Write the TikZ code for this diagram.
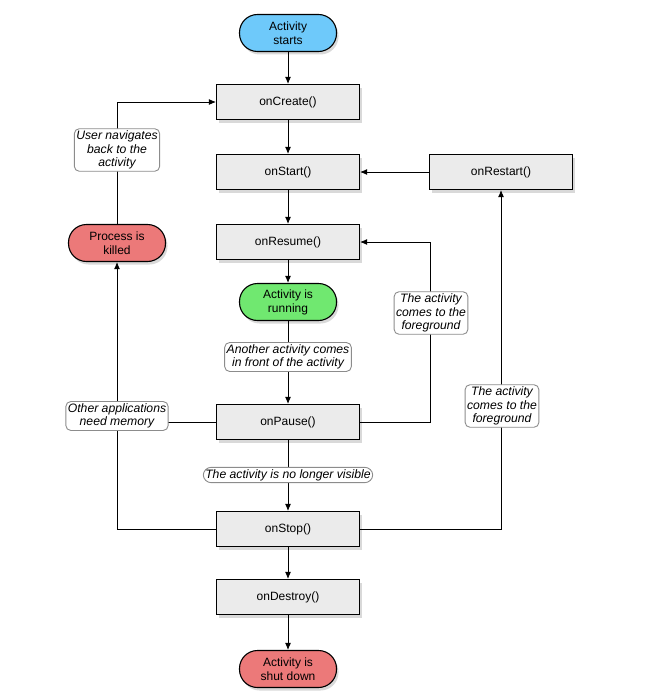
\documentclass[tikz,border=0pt]{standalone}
\usepackage{fontspec}
\setmainfont{Liberation Sans}
\usetikzlibrary{arrows.meta,shadows}
\definecolor{startblue}{RGB}{110,201,250}
\definecolor{rungreen}{RGB}{112,232,112}
\definecolor{endred}{RGB}{236,121,121}
\definecolor{boxgray}{RGB}{235,235,235}
\begin{document}
\begin{tikzpicture}[x=1pt,y=-1pt,
	font=\fontsize{12}{14}\selectfont,
	>={Latex[length=7pt,width=6pt]},
	callbox/.style={draw=black,line width=1.1pt,fill=boxgray,minimum width=143pt,minimum height=35pt,
		drop shadow={opacity=0.3,shadow xshift=2pt,shadow yshift=-3pt}},
	statepill/.style={draw=black,line width=1.1pt,rounded corners=18pt,minimum width=97pt,minimum height=37pt,align=center,
		drop shadow={opacity=0.3,shadow xshift=2pt,shadow yshift=-3pt}},
	note/.style={draw=black!45,fill=white,rounded corners=5pt,align=center,inner sep=2pt,
		font=\fontsize{12.2}{13.6}\selectfont\itshape},
	every path/.style={line width=0.9pt}]
	\useasboundingbox (0,0) rectangle (654,693);

	% main column
	\node (starts) at (288,33)[statepill,fill=startblue] {Activity\\starts};
	\node (create) at (288,102)[callbox] {onCreate()};
	\node (start) at (288,172)[callbox] {onStart()};
	\node (restart) at (501,172)[callbox] {onRestart()};
	\node (resume) at (288,242)[callbox] {onResume()};
	\node (running) at (288,302)[statepill,fill=rungreen] {Activity is\\running};
	\node (pause) at (288,422)[callbox] {onPause()};
	\node (stop) at (288,529)[callbox] {onStop()};
	\node (destroy) at (288,597)[callbox] {onDestroy()};
	\node (shutdown) at (288,669)[statepill,fill=endred] {Activity is\\shut down};
	\node (killed) at (117,243)[statepill,fill=endred] {Process is\\killed};
	\coordinate (fgline) at (430,0);

	\draw[->] (starts) -- (create);
	\draw[->] (create) -- (start);
	\draw[->] (start) -- (resume);
	\draw[->] (resume) -- (running);
	\draw[->] (running) -- (pause);
	\draw[->] (pause) -- (stop);
	\draw[->] (stop) -- (destroy);
	\draw[->] (destroy) -- (shutdown);
	\draw[->] (restart) -- (start);

	% side loops
	\draw[->] (pause.east) -- (pause.east -| fgline) |- (resume.east);
	\draw[->] (stop.east) -| (restart.south);
	\draw (pause.west) -- (pause.west -| killed.south);
	\draw[->] (stop.west) -| (killed.south);
	\draw[->] (killed.north) |- (create.west);

	% labels on the lines
	\node (navback) at (117,150)[note] {User navigates\\back to the\\activity};
	\node (memory) at (117,416)[note] {Other applications\\need memory};
	\node (infront) at (288,357)[note] {Another activity comes\\in front of the activity};
	\node (invisible) at (288,475)[note,rounded corners=8pt] {The activity is no longer visible};
	\node (fgresume) at (431,313)[note] {The activity\\comes to the\\foreground};
	\node (fgrestart) at (502,406)[note] {The activity\\comes to the\\foreground};
\end{tikzpicture}
\end{document}
